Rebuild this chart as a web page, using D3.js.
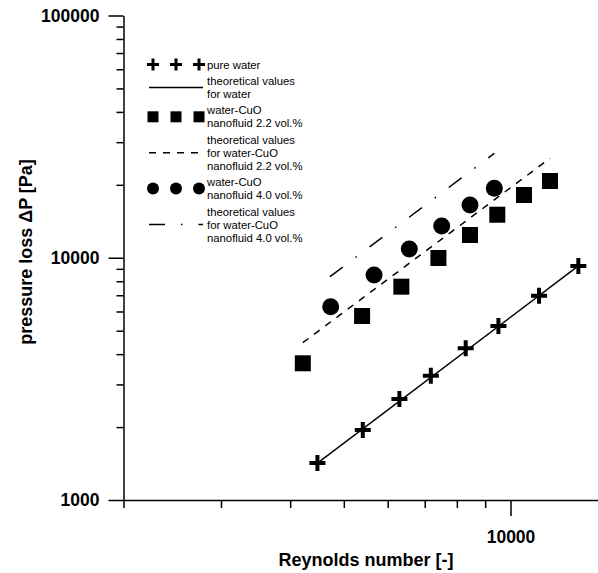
<!DOCTYPE html>
<html>
<head>
<meta charset="utf-8">
<script src="https://cdn.jsdelivr.net/npm/d3@7"></script>
<style>
  body { margin: 0; background: #fff; }
  text { font-family: "Liberation Sans", Arial, sans-serif; }
</style>
</head>
<body>
<div id="chart"></div>
<script>
// measured values (Reynolds number, pressure loss in Pa)
const waterRe = [4480, 5410, 6300, 7180, 8300, 9510, 11260, 13260];
const waterDp = [1420, 1945, 2610, 3260, 4230, 5230, 6970, 9250];
const cuo22Re = [4216, 5395, 6351, 7410, 8450, 9466, 10577, 11785];
const cuo22Dp = [3667, 5748, 7596, 9976, 12415, 15054, 18156, 20740];
const cuo40Re = [4734, 5670, 6565, 7512, 8450, 9349];
const cuo40Dp = [6281, 8487, 10867, 13522, 16509, 19348];

// theoretical lines (end points)
const theoWaterRe = [4480, 13260];
const theoWaterDp = [1420, 9250];
const theo22Re = [4216, 11785];
const theo22Dp = [4461, 25730];
const theo40Re = [4720, 9349];
const theo40Dp = [8353, 26990];

const yMajor = [1000, 10000, 100000];
const yMinor = [2000, 3000, 4000, 5000, 6000, 7000, 8000, 9000,
  20000, 30000, 40000, 50000, 60000, 70000, 80000, 90000];
const xMajor = [10000];
const xMinor = [2000, 3000, 4000, 5000, 6000, 7000, 8000, 9000];

const legendItems = [
  { lines: ["pure water"], symbol: "cross" },
  { lines: ["theoretical values", "for water"], symbol: "solid" },
  { lines: ["water-CuO", "nanofluid 2.2 vol.%"], symbol: "square" },
  { lines: ["theoretical values", "for water-CuO", "nanofluid 2.2 vol.%"], symbol: "dashed" },
  { lines: ["water-CuO", "nanofluid 4.0 vol.%"], symbol: "circle" },
  { lines: ["theoretical values", "for water-CuO", "nanofluid 4.0 vol.%"], symbol: "dashdot" },
];

const width = 598, height = 573;
const svg = d3.select("#chart").append("svg")
  .attr("width", width).attr("height", height);

const x = d3.scaleLog().domain([2000, 10000]).range([123.5, 510.5]);
x.domain([2000, x.invert(width + 2)]).range([123.5, width + 2]);
const y = d3.scaleLog().domain([1000, 100000]).range([500, 15.5]);

const dashStyles = { solid: null, dashed: "7,7", dashdot: "16,16,1.5,16" };

// axes
function styleAxis(g) {
  g.selectAll("path, line").attr("stroke", "#000").attr("stroke-width", 1.5);
  g.selectAll("text").attr("font-size", "17.5px").attr("font-weight", "bold")
    .attr("fill", "#000").attr("font-family", "Liberation Sans, Arial, sans-serif");
}

const yAx = svg.append("g").attr("transform", `translate(${x(2000)},0)`);
yAx.call(d3.axisLeft(y).tickValues(yMajor).tickSize(15).tickPadding(9)
  .tickFormat(d3.format("d")).tickSizeOuter(0));
yAx.append("g").call(d3.axisLeft(y).tickValues(yMinor).tickSize(7)
  .tickFormat("").tickSizeOuter(0)).select(".domain").remove();
styleAxis(yAx);

const xAx = svg.append("g").attr("transform", `translate(0,${y(1000)})`);
xAx.call(d3.axisBottom(x).tickValues(xMajor).tickSize(16).tickPadding(15)
  .tickFormat(d3.format("d")).tickSizeOuter(0));
xAx.append("g").call(d3.axisBottom(x).tickValues(xMinor).tickSize(8)
  .tickFormat("").tickSizeOuter(0)).select(".domain").remove();
styleAxis(xAx);

svg.append("text")
  .attr("x", 366).attr("y", 566)
  .attr("text-anchor", "middle")
  .attr("font-size", "18px").attr("font-weight", "bold")
  .text("Reynolds number [-]");

svg.append("text")
  .attr("transform", "translate(32,252) rotate(-90)")
  .attr("text-anchor", "middle")
  .attr("font-size", "18px").attr("font-weight", "bold")
  .text("pressure loss ΔP [Pa]");

// theoretical lines
const line = d3.line().x((d) => x(d[0])).y((d) => y(d[1]));
[
  [theoWaterRe, theoWaterDp, "solid"],
  [theo22Re, theo22Dp, "dashed"],
  [theo40Re, theo40Dp, "dashdot"],
].forEach(([re, dp, style]) => {
  svg.append("path")
    .datum(d3.zip(re, dp))
    .attr("d", line)
    .attr("fill", "none")
    .attr("stroke", "#000")
    .attr("stroke-width", 1.5)
    .attr("stroke-dasharray", dashStyles[style]);
});

// markers
function crossPath(r) {
  return `M${-r},0H${r}M0,${-r}V${r}`;
}

svg.append("g").selectAll("path")
  .data(d3.zip(waterRe, waterDp))
  .join("path")
  .attr("transform", (d) => `translate(${x(d[0])},${y(d[1])})`)
  .attr("d", crossPath(8))
  .attr("stroke", "#000").attr("stroke-width", 4).attr("fill", "none");

svg.append("g").selectAll("rect")
  .data(d3.zip(cuo22Re, cuo22Dp))
  .join("rect")
  .attr("x", (d) => x(d[0]) - 8).attr("y", (d) => y(d[1]) - 8)
  .attr("width", 16).attr("height", 16)
  .attr("fill", "#000");

svg.append("g").selectAll("circle")
  .data(d3.zip(cuo40Re, cuo40Dp))
  .join("circle")
  .attr("cx", (d) => x(d[0])).attr("cy", (d) => y(d[1]))
  .attr("r", 8.5)
  .attr("fill", "#000");

// legend
const legend = svg.append("g");
const lineH = 13, blockGap = 16.4;
const symX = [153, 176, 199];
let cy = 68.5;
legendItems.forEach((item) => {
  const n = item.lines.length;
  const top = cy;
  item.lines.forEach((t, i) => {
    legend.append("text")
      .attr("x", 207).attr("y", top + i * lineH)
      .attr("font-size", "11.3px").attr("fill", "#000")
      .text(t);
  });
  const midY = top + ((n - 1) * lineH) / 2 - 4;
  if (item.symbol === "cross") {
    symX.forEach((sx) => legend.append("path")
      .attr("transform", `translate(${sx},${midY})`)
      .attr("d", crossPath(6))
      .attr("stroke", "#000").attr("stroke-width", 3));
  } else if (item.symbol === "square") {
    symX.forEach((sx) => legend.append("rect")
      .attr("x", sx - 5.5).attr("y", midY - 5.5)
      .attr("width", 11).attr("height", 11).attr("fill", "#000"));
  } else if (item.symbol === "circle") {
    symX.forEach((sx) => legend.append("circle")
      .attr("cx", sx).attr("cy", midY).attr("r", 6).attr("fill", "#000"));
  } else {
    legend.append("line")
      .attr("x1", 149).attr("x2", 203)
      .attr("y1", midY).attr("y2", midY)
      .attr("stroke", "#000").attr("stroke-width", 1.5)
      .attr("stroke-dasharray", dashStyles[item.symbol]);
  }
  cy = top + (n - 1) * lineH + blockGap;
});
</script>
</body>
</html>
